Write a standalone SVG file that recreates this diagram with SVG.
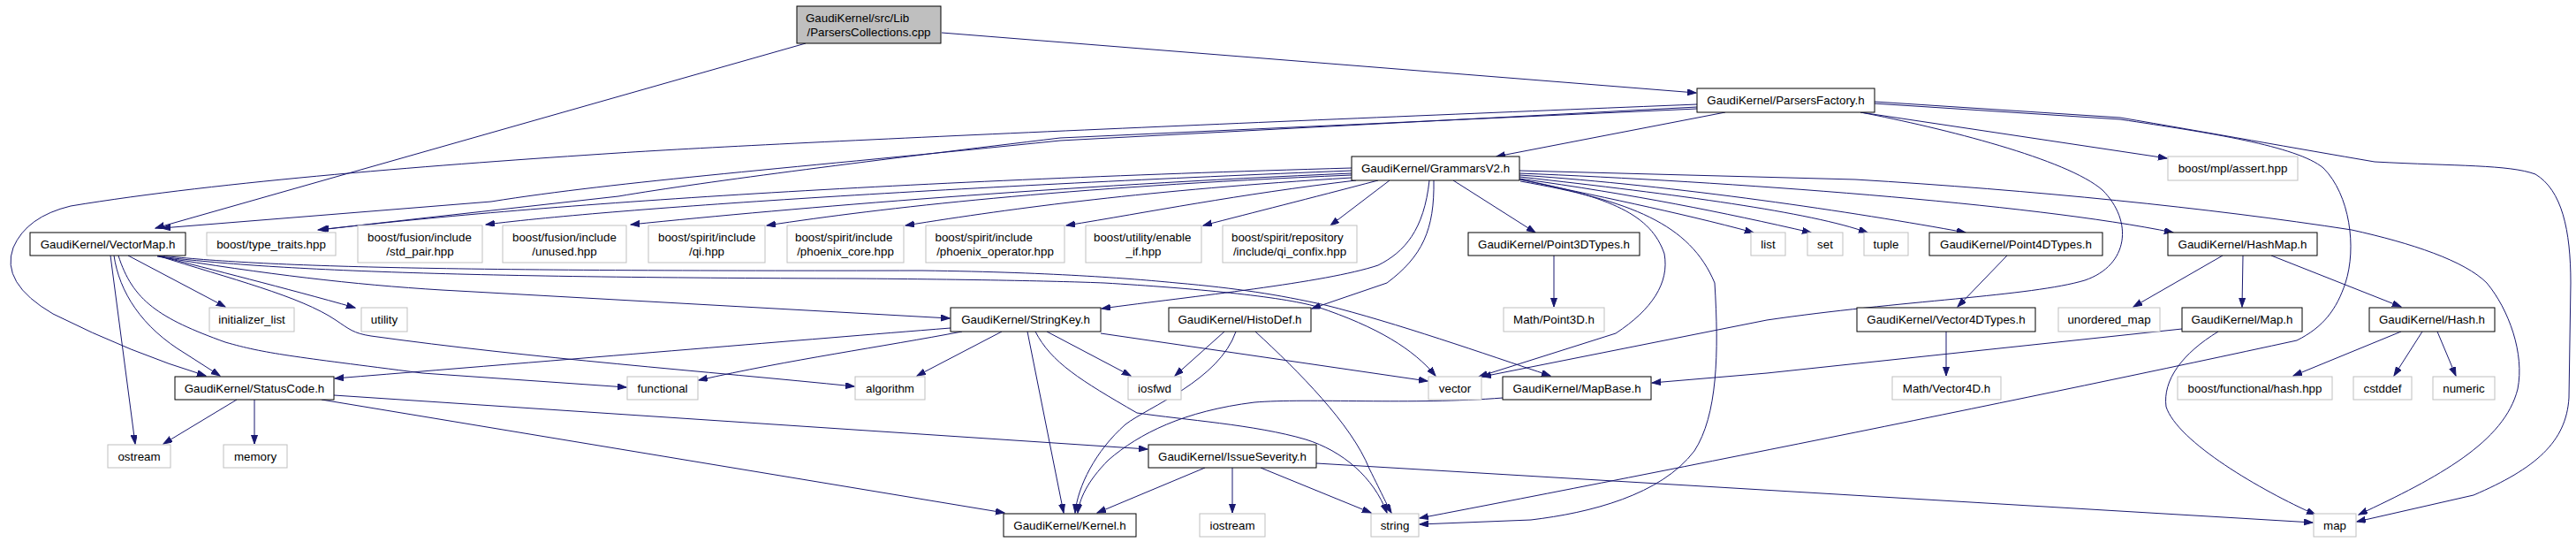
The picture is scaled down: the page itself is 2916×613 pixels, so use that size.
<svg xmlns="http://www.w3.org/2000/svg" width="2916" height="613" viewBox="0 0 2916 613">
<style>
.n rect{fill:#fff;stroke:#000;stroke-width:1}
.x rect{fill:#fff;stroke:#bfbfbf;stroke-width:1}
.r rect{fill:#bfbfbf;stroke:#000;stroke-width:1}
text{font-family:"Liberation Sans",Arial,sans-serif;font-size:13.33px;fill:#000}
.c{text-anchor:middle}
#edges path{fill:none;stroke:#191970;stroke-width:1;marker-end:url(#ah)}
</style>
<defs>
<marker id="ah" markerUnits="userSpaceOnUse" markerWidth="11" markerHeight="8" refX="10" refY="3.5" orient="auto">
<path d="M0,0 L10,3.5 L0,7 z" fill="#191970" stroke="#191970" stroke-width="1"/>
</marker>
</defs>
<rect width="2916" height="613" fill="#fff"/>
<g id="edges">
<path d="M1066,37 L1920,105"/>
<path d="M912,49 L176,258"/>
<path d="M1953,127 L1694,177"/>
<path d="M2106,127 L2453,179"/>
<path d="M1921,118 C1500,135 900,160 700,173 C500,186 250,205 80,233 Q30,245 15,280 Q0,320 60,355 Q150,400 233,425"/>
<path d="M1921,121 L1200,159 C900,190 700,205 556,228 L183,258"/>
<path d="M1921,123 L1200,156 C1000,180 800,205 700,222 L360,260"/>
<path d="M2106,127 C2200,145 2340,180 2380,215 C2415,250 2410,300 2360,317 C2300,335 2150,340 2000,362 L1678,426"/>
<path d="M2121,117 L2400,135 C2500,150 2600,165 2630,190 C2660,220 2668,280 2655,320 C2645,350 2630,370 2600,385 C2300,450 1900,530 1607,586"/>
<path d="M2122,115 L2400,133 C2500,150 2600,168 2688,183 C2780,188 2840,186 2870,197 C2900,215 2910,260 2910,320 L2908,450 C2905,500 2870,530 2800,560 L2668,590"/>
<path d="M1530,190 C1000,205 600,232 362,260"/>
<path d="M1530,193 C1100,210 700,235 550,254"/>
<path d="M1530,196 C1200,210 900,235 714,254"/>
<path d="M1530,198 C1200,212 1000,235 868,255"/>
<path d="M1530,201 C1300,215 1150,235 1025,255"/>
<path d="M1535,204 C1400,220 1300,240 1207,255"/>
<path d="M1560,204 C1480,225 1420,240 1362,255"/>
<path d="M1573,204 L1506,255"/>
<path d="M1645,204 L1738,263"/>
<path d="M1720,203 C1800,220 1900,240 1985,263"/>
<path d="M1720,202 C1850,220 1950,240 2050,263"/>
<path d="M1720,200 C1900,220 2050,240 2114,263"/>
<path d="M1720,198 C1900,210 2100,240 2225,263"/>
<path d="M1720,196 C1950,205 2300,230 2460,263"/>
<path d="M1720,193 L2100,203 C2300,215 2500,235 2662,260 C2730,275 2790,295 2815,320 C2840,350 2858,400 2850,440 C2835,500 2760,540 2670,582"/>
<path d="M1721,203 C1824,223 1869,243 1884,287 C1890,320 1870,350 1829,377 L1674,426"/>
<path d="M1721,205 C1846,227 1913,253 1941,320 C1946,400 1944,470 1918,510 C1880,560 1800,580 1733,588 L1607,593"/>
<path d="M1618,204 C1612,260 1590,285 1560,300 C1500,320 1350,335 1247,349"/>
<path d="M1623,204 C1624,260 1610,290 1570,320 L1485,349"/>
<path d="M125,289 L153,502"/>
<path d="M129,289 C135,330 160,370 210,400 L249,425"/>
<path d="M134,289 C150,340 180,360 255,387 C300,400 330,403 478,422 L709,438"/>
<path d="M145,289 L255,347"/>
<path d="M178,289 C240,305 320,325 402,348"/>
<path d="M178,289 C260,315 340,335 380,362 C395,372 400,377 420,380 C600,405 800,420 967,437"/>
<path d="M178,290 C300,310 400,322 500,328 L1075,360"/>
<path d="M180,290 C300,305 500,314 968,315 C1100,316 1200,318 1250,320 C1350,326 1450,335 1491,347 C1560,370 1600,395 1625,425"/>
<path d="M182,289 C300,302 500,307 1044,306 C1200,308 1290,316 1332,320 C1400,326 1446,333 1500,345 C1580,365 1680,400 1755,425"/>
<path d="M1076,371 C900,385 700,402 379,428"/>
<path d="M1089,375 C1000,392 893,407 791,430"/>
<path d="M1134,375 L1038,425"/>
<path d="M1163,375 L1204,580"/>
<path d="M1172,375 C1190,410 1223,430 1287,467 C1340,475 1420,480 1478,497 C1520,510 1555,540 1570,580"/>
<path d="M1185,375 L1280,425"/>
<path d="M1246,377 L1616,431"/>
<path d="M1386,375 L1330,425"/>
<path d="M1399,375 C1380,430 1300,460 1274,480 C1240,510 1220,550 1217,580"/>
<path d="M1421,375 C1470,420 1530,480 1550,530 C1565,560 1572,575 1575,580"/>
<path d="M1701,450 C1600,458 1480,450 1420,455 C1340,465 1290,490 1255,520 C1230,545 1222,565 1220,580"/>
<path d="M2470,372 L2000,422 L1870,433"/>
<path d="M2511,375 C2470,400 2448,430 2452,460 C2465,500 2560,555 2621,582"/>
<path d="M2516,289 L2415,347"/>
<path d="M2539,289 L2538,347"/>
<path d="M2571,289 L2718,347"/>
<path d="M2718,375 L2596,425"/>
<path d="M2742,375 L2710,425"/>
<path d="M2759,375 L2780,425"/>
<path d="M1759,289 L1759,347"/>
<path d="M2272,289 L2216,347"/>
<path d="M2203,375 L2203,425"/>
<path d="M268,452 L185,502"/>
<path d="M288,452 L288,502"/>
<path d="M378,447 L1299,508"/>
<path d="M364,452 L1137,580"/>
<path d="M1364,529 L1242,580"/>
<path d="M1395,529 L1395,580"/>
<path d="M1427,529 L1552,580"/>
<path d="M1490,524 L2618,591"/>
</g>
<g id="root" class="r"><rect x="902" y="7" width="163" height="42"/><text x="912" y="24.7">GaudiKernel/src/Lib</text><text class="c" x="983.5" y="40.7">/ParsersCollections.cpp</text></g>
<g id="pf" class="n"><rect x="1921" y="100" width="201" height="27"/><text class="c" x="2021.5" y="118">GaudiKernel/ParsersFactory.h</text></g>
<g id="gv2" class="n"><rect x="1530" y="177" width="190" height="27"/><text class="c" x="1625" y="195">GaudiKernel/GrammarsV2.h</text></g>
<g id="mpl" class="x"><rect x="2454" y="177" width="147" height="27"/><text class="c" x="2527.5" y="195">boost/mpl/assert.hpp</text></g>
<g id="vm" class="n"><rect x="34" y="263" width="176" height="26"/><text class="c" x="122" y="280.7">GaudiKernel/VectorMap.h</text></g>
<g id="tt" class="x"><rect x="234" y="263" width="146" height="26"/><text class="c" x="307" y="280.7">boost/type_traits.hpp</text></g>
<g id="sp" class="x"><rect x="405" y="255" width="141" height="42"/><text x="416" y="272.7">boost/fusion/include</text><text class="c" x="475.5" y="288.7">/std_pair.hpp</text></g>
<g id="un" class="x"><rect x="569" y="255" width="140" height="42"/><text x="580" y="272.7">boost/fusion/include</text><text class="c" x="639" y="288.7">/unused.hpp</text></g>
<g id="qi" class="x"><rect x="734" y="255" width="132" height="42"/><text x="745" y="272.7">boost/spirit/include</text><text class="c" x="800" y="288.7">/qi.hpp</text></g>
<g id="pc" class="x"><rect x="891" y="255" width="132" height="42"/><text x="900" y="272.7">boost/spirit/include</text><text class="c" x="957" y="288.7">/phoenix_core.hpp</text></g>
<g id="po" class="x"><rect x="1048" y="255" width="157" height="42"/><text x="1058.5" y="272.7">boost/spirit/include</text><text class="c" x="1126.5" y="288.7">/phoenix_operator.hpp</text></g>
<g id="ei" class="x"><rect x="1229" y="255" width="131" height="42"/><text x="1238" y="272.7">boost/utility/enable</text><text class="c" x="1294.5" y="288.7">_if.hpp</text></g>
<g id="qc" class="x"><rect x="1384" y="255" width="152" height="42"/><text x="1394" y="272.7">boost/spirit/repository</text><text class="c" x="1460" y="288.7">/include/qi_confix.hpp</text></g>
<g id="p3" class="n"><rect x="1662" y="263" width="194" height="26"/><text class="c" x="1759" y="280.7">GaudiKernel/Point3DTypes.h</text></g>
<g id="list" class="x"><rect x="1982" y="263" width="39" height="26"/><text class="c" x="2001.5" y="280.7">list</text></g>
<g id="set" class="x"><rect x="2046" y="263" width="40" height="26"/><text class="c" x="2066" y="280.7">set</text></g>
<g id="tuple" class="x"><rect x="2110" y="263" width="50" height="26"/><text class="c" x="2135" y="280.7">tuple</text></g>
<g id="p4" class="n"><rect x="2184" y="263" width="196" height="26"/><text class="c" x="2282" y="280.7">GaudiKernel/Point4DTypes.h</text></g>
<g id="hm" class="n"><rect x="2454" y="263" width="169" height="26"/><text class="c" x="2538.5" y="280.7">GaudiKernel/HashMap.h</text></g>
<g id="il" class="x"><rect x="237" y="348" width="96" height="27"/><text class="c" x="285" y="366">initializer_list</text></g>
<g id="ut" class="x"><rect x="409" y="348" width="52" height="27"/><text class="c" x="435" y="366">utility</text></g>
<g id="sk" class="n"><rect x="1076" y="348" width="170" height="27"/><text class="c" x="1161" y="366">GaudiKernel/StringKey.h</text></g>
<g id="hd" class="n"><rect x="1323" y="348" width="161" height="27"/><text class="c" x="1403.5" y="366">GaudiKernel/HistoDef.h</text></g>
<g id="m3" class="x"><rect x="1702" y="348" width="114" height="27"/><text class="c" x="1759" y="366">Math/Point3D.h</text></g>
<g id="v4t" class="n"><rect x="2102" y="348" width="202" height="27"/><text class="c" x="2203" y="366">GaudiKernel/Vector4DTypes.h</text></g>
<g id="um" class="x"><rect x="2330" y="348" width="115" height="27"/><text class="c" x="2387.5" y="366">unordered_map</text></g>
<g id="mp" class="n"><rect x="2470" y="348" width="136" height="27"/><text class="c" x="2538" y="366">GaudiKernel/Map.h</text></g>
<g id="hs" class="n"><rect x="2682" y="348" width="142" height="27"/><text class="c" x="2753" y="366">GaudiKernel/Hash.h</text></g>
<g id="sc" class="n"><rect x="198" y="426" width="180" height="26"/><text class="c" x="288" y="443.7">GaudiKernel/StatusCode.h</text></g>
<g id="fn" class="x"><rect x="710" y="426" width="80" height="26"/><text class="c" x="750" y="443.7">functional</text></g>
<g id="al" class="x"><rect x="968" y="426" width="79" height="26"/><text class="c" x="1007.5" y="443.7">algorithm</text></g>
<g id="io" class="x"><rect x="1277" y="426" width="60" height="26"/><text class="c" x="1307" y="443.7">iosfwd</text></g>
<g id="vec" class="x"><rect x="1617" y="426" width="60" height="26"/><text class="c" x="1647" y="443.7">vector</text></g>
<g id="mb" class="n"><rect x="1701" y="426" width="168" height="26"/><text class="c" x="1785" y="443.7">GaudiKernel/MapBase.h</text></g>
<g id="m4" class="x"><rect x="2142" y="426" width="123" height="26"/><text class="c" x="2203.5" y="443.7">Math/Vector4D.h</text></g>
<g id="bfh" class="x"><rect x="2465" y="426" width="175" height="26"/><text class="c" x="2552.5" y="443.7">boost/functional/hash.hpp</text></g>
<g id="cs" class="x"><rect x="2664" y="426" width="66" height="26"/><text class="c" x="2697" y="443.7">cstddef</text></g>
<g id="nu" class="x"><rect x="2754" y="426" width="70" height="26"/><text class="c" x="2789" y="443.7">numeric</text></g>
<g id="os" class="x"><rect x="122" y="503" width="71" height="26"/><text class="c" x="157.5" y="520.7">ostream</text></g>
<g id="me" class="x"><rect x="253" y="503" width="72" height="26"/><text class="c" x="289" y="520.7">memory</text></g>
<g id="is" class="n"><rect x="1300" y="503" width="190" height="26"/><text class="c" x="1395" y="520.7">GaudiKernel/IssueSeverity.h</text></g>
<g id="k" class="n"><rect x="1136" y="581" width="150" height="26"/><text class="c" x="1211" y="598.7">GaudiKernel/Kernel.h</text></g>
<g id="ios" class="x"><rect x="1358" y="581" width="74" height="26"/><text class="c" x="1395" y="598.7">iostream</text></g>
<g id="str" class="x"><rect x="1552" y="581" width="54" height="26"/><text class="c" x="1579" y="598.7">string</text></g>
<g id="map" class="x"><rect x="2619" y="581" width="48" height="26"/><text class="c" x="2643" y="598.7">map</text></g>
</svg>
